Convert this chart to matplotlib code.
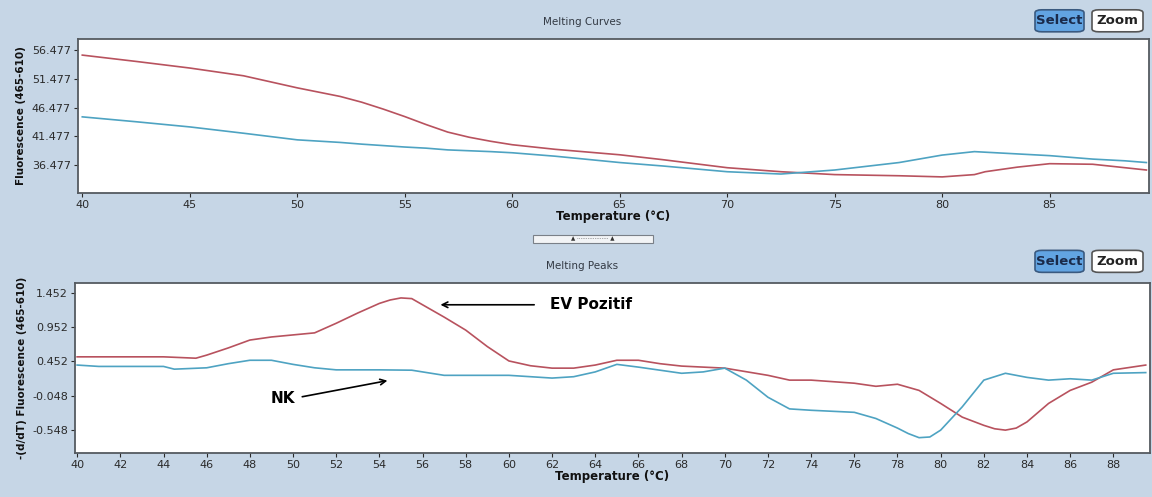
import matplotlib.pyplot as plt
from matplotlib.patches import FancyBboxPatch, Rectangle

# Melting Curves (ust grafik)
temp_curve = [40, 42.5, 45, 47.5, 50, 52, 53, 54, 55, 56, 57, 58, 59, 60, 62, 65, 67, 70, 72.5, 75,
              78, 80, 81.5, 82, 83.5, 85, 87, 88.5, 89.5]
ev_curve = [55.6, 54.5, 53.35, 52.0, 49.9, 48.4, 47.4, 46.2, 44.9, 43.5, 42.2, 41.3, 40.6, 40.0, 39.2,
            38.25, 37.4, 36.0, 35.3, 34.8, 34.6, 34.4, 34.8, 35.3, 36.1, 36.7, 36.6, 36.0, 35.6]
nk_curve = [44.85, 44.0, 43.1, 42.0, 40.85, 40.4, 40.1, 39.85, 39.6, 39.4, 39.1, 38.95, 38.8, 38.6, 38.0,
            36.9, 36.3, 35.3, 34.9, 35.6, 36.9, 38.2, 38.8, 38.7, 38.4, 38.1, 37.5, 37.2, 36.9]

# Melting Peaks (alt grafik)
temp_ev = [40, 44, 45.5, 46, 47, 48, 49, 50, 51, 52, 53, 54, 54.5, 55, 55.5, 56, 57, 58, 59, 60, 61, 62,
           63, 64, 65, 66, 67, 68, 70, 72, 73, 74, 76, 77, 78, 79, 80, 81, 82, 82.5, 83, 83.5, 84, 85, 86,
           87, 88, 89.5]
ev_peak = [0.52, 0.52, 0.50, 0.545, 0.65, 0.765, 0.81, 0.84, 0.87, 1.01, 1.16, 1.30, 1.35, 1.38, 1.37,
           1.28, 1.10, 0.91, 0.67, 0.46, 0.39, 0.355, 0.355, 0.40, 0.47, 0.47, 0.42, 0.385, 0.355, 0.25,
           0.18, 0.18, 0.135, 0.09, 0.12, 0.03, -0.16, -0.36, -0.48, -0.53, -0.55, -0.52, -0.43, -0.16,
           0.03, 0.15, 0.33, 0.40]
temp_nk = [40, 41, 44, 44.5, 46, 47, 48, 49, 50, 51, 52, 54, 55.5, 57, 60, 62, 63, 64, 65, 66, 68, 69, 70,
           71, 72, 73, 74, 76, 77, 78, 78.5, 79, 79.5, 80, 81, 82, 83, 84, 85, 86, 87, 88, 89.5]
nk_peak = [0.40, 0.38, 0.38, 0.34, 0.36, 0.42, 0.47, 0.47, 0.41, 0.36, 0.33, 0.33, 0.325, 0.25, 0.25, 0.21,
           0.23, 0.30, 0.41, 0.37, 0.28, 0.30, 0.355, 0.18, -0.07, -0.24, -0.26, -0.29, -0.38, -0.52, -0.60,
           -0.66, -0.65, -0.55, -0.21, 0.18, 0.28, 0.22, 0.18, 0.20, 0.18, 0.28, 0.29]

curve_ticks = [36.477, 41.477, 46.477, 51.477, 56.477]
peak_ticks = [-0.548, -0.048, 0.452, 0.952, 1.452]

BG = "#c6d6e6"
RED = "#b8525e"
CYAN = "#4ea3c2"
TXT = "#2a2a2a"

fig = plt.figure(figsize=(11.52, 4.97), dpi=100, facecolor=BG)


def stil(ax):
    ax.set_facecolor("white")
    for s in ax.spines.values():
        s.set_color("#555a60")
        s.set_linewidth(1.3)
    ax.tick_params(labelsize=8, colors=TXT, length=3, width=0.8, pad=2)


def buton(y):
    fig.patches.append(FancyBboxPatch((1035 / 1152, y), 49 / 1152, 22 / 497,
                                      boxstyle="round,pad=0,rounding_size=0.006",
                                      transform=fig.transFigure, facecolor="#62a4e2",
                                      edgecolor="#3a5a80", linewidth=1.2))
    fig.text(1059.5 / 1152, y + 11 / 497, "Select", ha="center", va="center",
             fontsize=9.5, fontweight="bold", color="#1a2a4a")
    fig.patches.append(FancyBboxPatch((1092 / 1152, y), 51 / 1152, 22 / 497,
                                      boxstyle="round,pad=0,rounding_size=0.006",
                                      transform=fig.transFigure, facecolor="white",
                                      edgecolor="#555555", linewidth=1.2))
    fig.text(1117.5 / 1152, y + 11 / 497, "Zoom", ha="center", va="center",
             fontsize=9.5, fontweight="bold", color="#222222")


# ust grafik
ax1 = fig.add_axes([0.0677, 0.6117, 0.9293, 0.3098])
stil(ax1)
ax1.plot(temp_curve, ev_curve, color=RED, lw=1.2)
ax1.plot(temp_curve, nk_curve, color=CYAN, lw=1.2)
ax1.set_xlim(39.8, 89.6)
ax1.set_ylim(31.6, 58.4)
ax1.set_xticks([40, 45, 50, 55, 60, 65, 70, 75, 80, 85])
ax1.set_yticks(curve_ticks)
ax1.set_yticklabels([f"{t:.3f}" for t in curve_ticks])
ax1.set_xlabel("Temperature (°C)", fontsize=8.5, fontweight="bold", labelpad=0, color="#111111")
ax1.set_ylabel("Fluorescence (465-610)", fontsize=7.5, fontweight="bold", labelpad=4, color="#111111")
fig.text(0.505, 0.955, "Melting Curves", ha="center", va="center", fontsize=7.5, color="#333a44")
buton(0.936)

# kaydirma cubugu
fig.patches.append(Rectangle((533 / 1152, 1 - 243 / 497), 120 / 1152, 8 / 497,
                             transform=fig.transFigure, facecolor="#f2f4f6",
                             edgecolor="#7a8088", linewidth=0.8))
fig.text(593 / 1152, 1 - 239 / 497, "▲ ·················· ▲", ha="center", va="center",
         fontsize=4, color="#333333")

# alt grafik
ax2 = fig.add_axes([0.0651, 0.0885, 0.9332, 0.3421])
stil(ax2)
ax2.plot(temp_ev, ev_peak, color=RED, lw=1.2)
ax2.plot(temp_nk, nk_peak, color=CYAN, lw=1.2)
ax2.set_xlim(39.9, 89.7)
ax2.set_ylim(-0.884, 1.598)
ax2.set_xticks(range(40, 90, 2))
ax2.set_yticks(peak_ticks)
ax2.set_yticklabels([f"{t:.3f}" for t in peak_ticks])
ax2.set_xlabel("Temperature (°C)", fontsize=8.5, fontweight="bold", labelpad=0, color="#111111")
ax2.set_ylabel("-(d/dT) Fluorescence (465-610)", fontsize=7.5, fontweight="bold", labelpad=4, color="#111111")
fig.text(0.505, 0.465, "Melting Peaks", ha="center", va="center", fontsize=7.5, color="#333a44")
buton(0.452)

ax2.annotate("", xy=(56.7, 1.28), xytext=(61.3, 1.28),
             arrowprops=dict(arrowstyle="->", color="black", lw=1.2))
ax2.text(61.9, 1.28, "EV Pozitif", fontsize=11, fontweight="bold", va="center", ha="left")
ax2.annotate("", xy=(54.5, 0.18), xytext=(50.3, -0.07),
             arrowprops=dict(arrowstyle="->", color="black", lw=1.2))
ax2.text(50.1, -0.09, "NK", fontsize=11, fontweight="bold", va="center", ha="right")

plt.savefig("out.png", dpi=100, facecolor=BG)
